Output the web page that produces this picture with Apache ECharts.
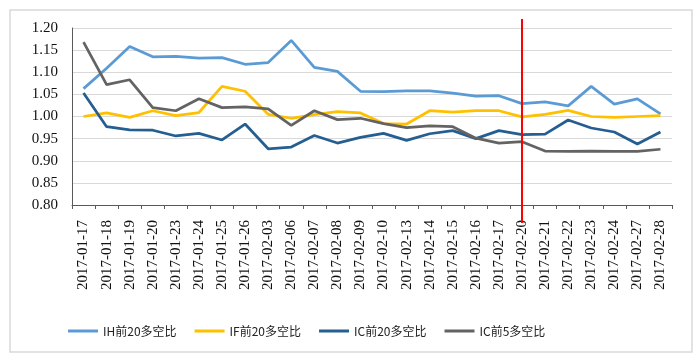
<!DOCTYPE html>
<html>
<head>
<meta charset="utf-8">
<script src="https://cdn.jsdelivr.net/npm/echarts@6/dist/echarts.min.js"></script>
<style>html,body{margin:0;padding:0;background:#fff;}#c{width:700px;height:359px;}</style>
</head>
<body>
<div id="c"></div>
<script>
const categories = ['2017-01-17','2017-01-18','2017-01-19','2017-01-20','2017-01-23','2017-01-24','2017-01-25','2017-01-26','2017-02-03','2017-02-06','2017-02-07','2017-02-08','2017-02-09','2017-02-10','2017-02-13','2017-02-14','2017-02-15','2017-02-16','2017-02-17','2017-02-20','2017-02-21','2017-02-22','2017-02-23','2017-02-24','2017-02-27','2017-02-28'];
const seriesNames = ['IH前20多空比','IF前20多空比','IC前20多空比','IC前5多空比'];
const ih20 = [1.063,1.109,1.158,1.135,1.136,1.132,1.133,1.118,1.122,1.172,1.111,1.102,1.057,1.056,1.058,1.058,1.053,1.046,1.047,1.029,1.033,1.024,1.068,1.028,1.040,1.006];
const if20 = [1.000,1.008,0.998,1.013,1.002,1.009,1.068,1.057,1.005,0.996,1.004,1.011,1.008,0.984,0.983,1.013,1.010,1.013,1.013,0.999,1.005,1.014,1.000,0.998,1.000,1.002];
const ic20 = [1.053,0.977,0.970,0.969,0.956,0.962,0.947,0.983,0.927,0.931,0.957,0.940,0.953,0.962,0.946,0.961,0.968,0.950,0.968,0.959,0.960,0.992,0.974,0.965,0.938,0.965];
const ic5  = [1.168,1.072,1.083,1.020,1.013,1.040,1.020,1.022,1.017,0.980,1.013,0.993,0.996,0.984,0.975,0.979,0.977,0.951,0.940,0.943,0.922,0.921,0.922,0.921,0.921,0.926];
const markDate = '2017-02-20';
const yTicks = {min: 0.80, max: 1.20, interval: 0.05};
const colors = ['#5B9BD5','#FFC000','#255E91','#636363'];

const chart = echarts.init(document.getElementById('c'));
const serif = 'Liberation Serif';
const dataSets = [ih20, if20, ic20, ic5];
chart.setOption({
  animation: false,
  backgroundColor: '#fff',
  grid: {left: 72, right: 28, top: 28, height: 177, containLabel: false},
  legend: {
    left: 63, top: 320, itemWidth: 30, itemHeight: 12, itemGap: 18,
    icon: 'path://M0,0 L30,0 L30,3 L0,3 Z',
    textStyle: {fontFamily: 'Noto Sans CJK SC', fontSize: 12, color: '#222'},
    data: seriesNames
  },
  xAxis: {
    type: 'category', data: categories, boundaryGap: true,
    axisLine: {lineStyle: {color: '#595959', width: 1}},
    axisTick: {show: true, length: 4, lineStyle: {color: '#595959'}},
    axisLabel: {rotate: 90, margin: 15, interval: 0, fontFamily: serif, fontSize: 15, color: '#111'},
    splitLine: {show: false}
  },
  yAxis: {
    type: 'value', min: yTicks.min, max: yTicks.max, interval: yTicks.interval,
    axisLine: {show: true, lineStyle: {color: '#595959', width: 1}},
    axisTick: {show: false},
    axisLabel: {margin: 14, fontFamily: serif, fontSize: 15, color: '#111', formatter: v => v.toFixed(2)},
    splitLine: {lineStyle: {color: '#D9D9D9', width: 1}}
  },
  series: seriesNames.map((n, i) => ({
    name: n, type: 'line', data: dataSets[i], symbol: 'none',
    lineStyle: {color: colors[i], width: 2.75}, itemStyle: {color: colors[i]}, z: 2 + i
  }))
});
const px = chart.convertToPixel({xAxisIndex: 0}, markDate);
chart.setOption({
  graphic: [
    {type: 'rect', shape: {x: 10, y: 10, width: 682, height: 342}, style: {fill: 'none', stroke: '#D9D9D9', lineWidth: 1.5}, silent: true, z: -1},
    {type: 'line', shape: {x1: px, y1: 19, x2: px, y2: 223}, style: {stroke: '#FF0000', lineWidth: 2}, z: 100}
  ]
});
</script>
</body>
</html>
